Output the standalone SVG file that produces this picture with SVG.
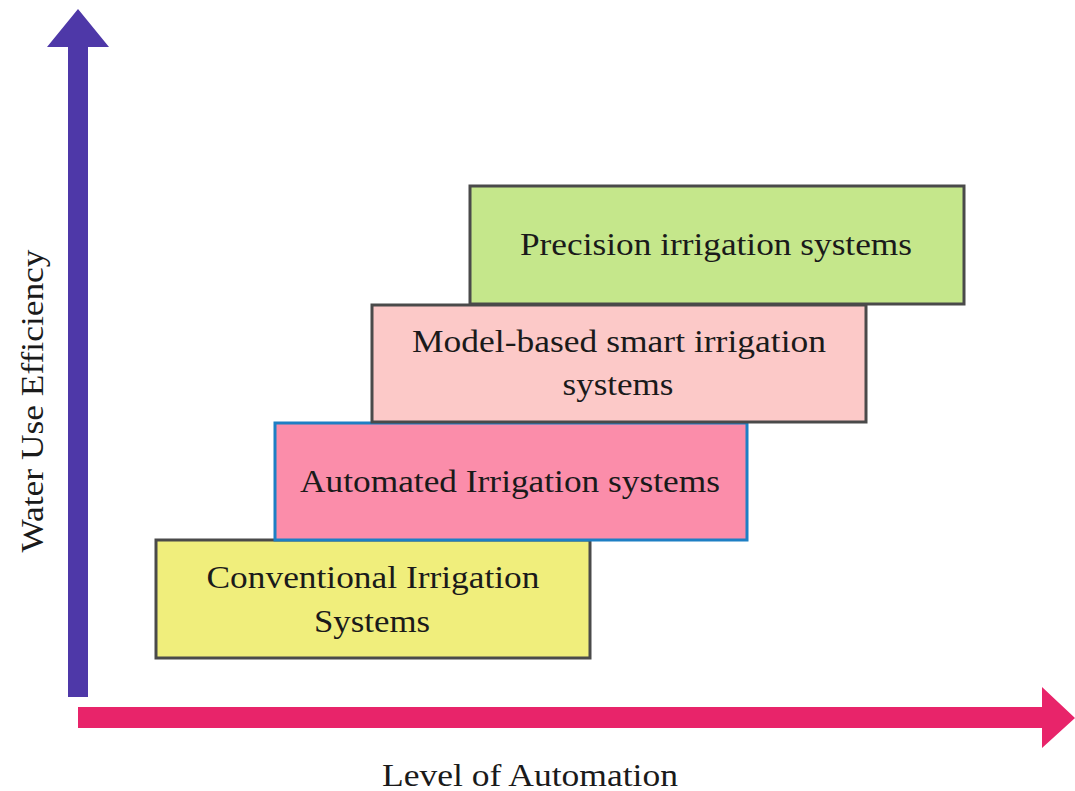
<svg xmlns="http://www.w3.org/2000/svg" width="1075" height="791" viewBox="0 0 1075 791">
<style>
.box{stroke:#4a4a4a;stroke-width:3}
.t{font-family:"Liberation Serif","Times New Roman",serif;font-size:31px;fill:#1a1a1a;text-anchor:middle}
</style>
<rect width="1075" height="791" fill="#ffffff"/>
<g id="axes">
<polygon id="y-axis" points="68,697 88,697 88,47 109,47 78,9 47,47 68,47" fill="#4e38a8"/>
<polygon id="x-axis" points="78,707 1042,707 1042,687 1075,718 1042,748 1042,728 78,728" fill="#e8246a"/>
</g>
<g id="conventional">
<rect class="box" x="156" y="540" width="434" height="118" fill="#f0ee7c"/>
<text class="t" x="373" y="588" textLength="333" lengthAdjust="spacingAndGlyphs">Conventional Irrigation</text>
<text class="t" x="372" y="632" textLength="116" lengthAdjust="spacingAndGlyphs">Systems</text>
</g>
<g id="automated">
<rect x="275" y="423" width="472" height="117" fill="#fb8daa" stroke="#1d7fc4" stroke-width="3"/>
<text class="t" x="510" y="492" textLength="420" lengthAdjust="spacingAndGlyphs">Automated Irrigation systems</text>
</g>
<g id="model-based">
<rect class="box" x="372" y="305" width="494" height="117" fill="#fcc9c8"/>
<text class="t" x="619" y="352" textLength="414" lengthAdjust="spacingAndGlyphs">Model-based smart irrigation</text>
<text class="t" x="618" y="395" textLength="111" lengthAdjust="spacingAndGlyphs">systems</text>
</g>
<g id="precision">
<rect class="box" x="470" y="186" width="494" height="118" fill="#c5e78b"/>
<text class="t" x="716" y="255" textLength="392" lengthAdjust="spacingAndGlyphs">Precision irrigation systems</text>
</g>
<text class="t" x="530" y="786" textLength="296" lengthAdjust="spacingAndGlyphs">Level of Automation</text>
<text class="t" transform="translate(43,401) rotate(-90)" textLength="303" lengthAdjust="spacingAndGlyphs">Water Use Efficiency</text>
</svg>
